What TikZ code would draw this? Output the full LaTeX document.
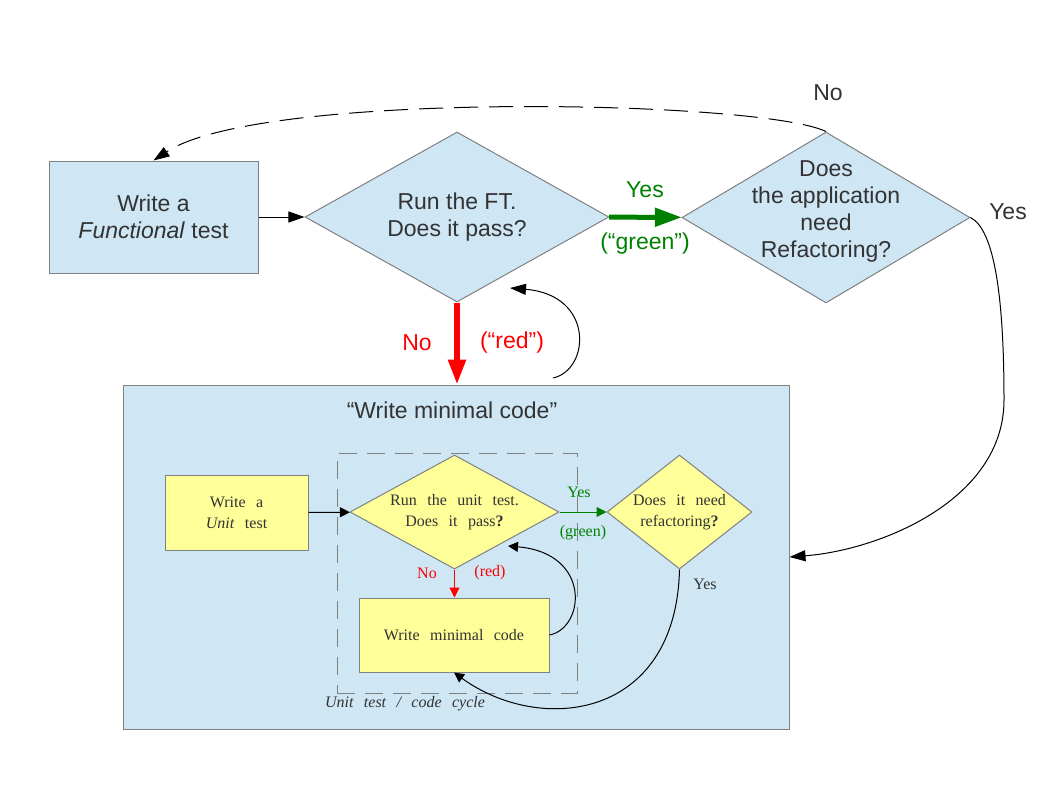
\documentclass[tikz,border=0pt]{standalone}
\usepackage{fontspec}
\setmainfont{Liberation Sans}
\newfontfamily\unitfont[WordSpace=2.6]{Liberation Serif}
\usetikzlibrary{shapes.geometric,arrows.meta}

\definecolor{ftblue}{HTML}{CFE6F4}
\definecolor{utyellow}{HTML}{FFFF99}
\definecolor{okgreen}{HTML}{008000}
\definecolor{txtgray}{HTML}{333333}
\definecolor{edgegray}{HTML}{808080}

\tikzset{
  ftbox/.style={draw=edgegray, fill=ftblue, text=txtgray, align=center,
    inner sep=0pt, line width=1pt, font=\fontsize{23}{27}\selectfont},
  ftdecision/.style={draw=edgegray, fill=ftblue, diamond, inner sep=0pt, line width=1pt},
  utbox/.style={draw=edgegray, fill=utyellow, text=txtgray, align=center,
    inner sep=0pt, line width=1pt, font=\unitfont\fontsize{16}{21}\selectfont},
  utdecision/.style={draw=edgegray, fill=utyellow, diamond, inner sep=0pt, line width=1pt},
  ftlabel/.style={text=txtgray, inner sep=0pt, align=center, font=\fontsize{23}{27}\selectfont},
  utlabel/.style={text=txtgray, inner sep=0pt, align=center, font=\unitfont\fontsize{16}{21}\selectfont},
  flow/.style={-{Triangle[length=16pt,width=11pt]}, line width=1pt},
  unitflow/.style={-{Triangle[length=10pt,width=10pt]}, line width=1pt},
}

\begin{document}
\begin{tikzpicture}[x=1pt,y=-1pt]
\useasboundingbox (0,0) rectangle (1047,785);

% functional test loop
\node[ftbox, minimum width=209pt, minimum height=112pt] (ft) at (153.5,217) {Write a\\\textit{Functional} test};
\node[ftdecision, minimum width=304pt, minimum height=170pt,
  label={[ftlabel]center:{Run the FT.\\Does it pass?}}] (ftpass) at (457,217) {};
\node[ftdecision, minimum width=288pt, minimum height=171pt,
  label={[ftlabel, yshift=6.5pt]center:{Does\\the application\\need\\Refactoring?}}] (refac) at (826,217.5) {};
\node[ftbox, minimum width=666pt, minimum height=344pt] (inner) at (456,557) {};
\node[ftlabel] (title) at (452,410) {“Write minimal code”};

\draw[flow] (ft) -- (ftpass);
\draw[-{Triangle[length=27pt,width=18pt]}, line width=5pt, okgreen] (ftpass) -- (refac);
\node[ftlabel, text=okgreen] (ftyes) at (645,190) {Yes};
\node[ftlabel, text=okgreen] (ftgreen) at (645,244) {(“green”)};
\draw[-{Triangle[length=25pt,width=17pt]}, line width=5.5pt, red] (ftpass.south) -- (ftpass.south |- inner.north);
\node[ftlabel, text=red] (ftno) at (417,343) {No};
\node[ftlabel, text=red] (ftred) at (512,343) {(“red”)};

\coordinate (loopstart) at (553,378);
\coordinate (looptip) at (510,288);
\draw[flow] (loopstart) .. controls (590,370) and (595,295) .. (looptip);

\draw[flow, dash pattern=on 24pt off 11pt] (refac.north) .. controls (760,100) and (260,90) .. (ft.north);
\node[ftlabel] (refno) at (828,93) {No};
\draw[flow] (refac.east) .. controls (995,230) and (1004,300) .. (1004,400)
  .. controls (1004,500) and (880,550) .. (inner.east);
\node[ftlabel] (refyes) at (1008,212) {Yes};

% unit test / code cycle
\node[draw=edgegray, line width=1pt, dash pattern=on 18pt off 10pt, minimum width=240pt, minimum height=240pt] (cycle) at (457,573) {};
\node[utlabel, font=\unitfont\itshape\fontsize{16}{21}\selectfont] (cyclename) at (405,704) {Unit test / code cycle};

\node[utbox, minimum width=143pt, minimum height=75pt] (unit) at (236.5,512.5) {Write a\\\textit{Unit} test};
\node[utdecision, minimum width=209pt, minimum height=114pt,
  label={[utlabel]center:{Run the unit test.\\Does it pass\textbf{?}}}] (utpass) at (454.5,512) {};
\node[utdecision, minimum width=145pt, minimum height=114pt,
  label={[utlabel]center:{Does it need\\refactoring\textbf{?}}}] (utref) at (679.5,512) {};
\node[utbox, minimum width=190pt, minimum height=74pt] (minimal) at (454,635) {Write minimal code};

\draw[unitflow] (unit) -- (utpass);
\draw[unitflow, okgreen] (utpass) -- (utref);
\node[utlabel, text=okgreen] (utyes) at (579,492) {Yes};
\node[utlabel, text=okgreen] (utgreen) at (583,533) {(green)};
\draw[unitflow, red] (utpass.south) -- (utpass.south |- minimal.north);
\node[utlabel, text=red] (utno) at (427,573) {No};
\node[utlabel, text=red] (utred) at (490,573) {(red)};

\coordinate (unittip) at (508,546);
\draw[unitflow] (minimal.east) .. controls (585,628) and (592,553) .. (unittip);
\draw[unitflow] (utref.south) .. controls (676,720) and (540,735) .. (minimal.south);
\node[utlabel] (utrefyes) at (705,584) {Yes};
\end{tikzpicture}
\end{document}
